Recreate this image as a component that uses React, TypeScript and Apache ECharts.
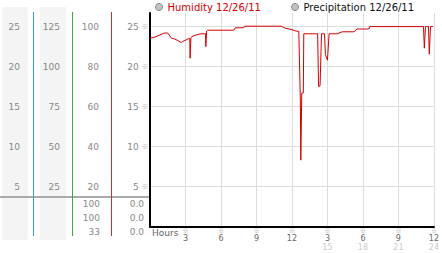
import React, { useEffect, useRef } from 'react';
import * as echarts from 'echarts';

// Time of day in hours (0 = midnight, 24 = next midnight)
const hours = [
  0.0, 0.42, 0.83, 1.25, 1.5, 1.81, 2.08, 2.36, 2.64, 2.78, 3.06, 3.28, 3.36, 3.39, 3.46, 3.53,
  3.89, 4.31, 4.69, 4.72, 4.79, 4.86, 7.08, 7.22, 7.92, 8.0, 11.1, 11.42, 11.92, 12.33, 12.58,
  12.71, 12.75, 12.83, 12.96, 13.0, 14.17, 14.25, 14.375, 14.5, 14.75, 14.83, 15.0, 15.14, 15.83,
  16.25, 17.25, 17.5, 18.5, 18.58, 23.12, 23.19, 23.29, 23.54, 23.61, 23.71, 23.92,
];
const humidity = [
  23.55, 23.7, 23.95, 24.2, 24.2, 23.55, 23.45, 23.25, 23.0, 23.15, 23.35, 23.5, 23.5, 21.05, 23.6, 23.75,
  23.95, 24.1, 24.1, 22.5, 24.45, 24.55, 24.55, 24.85, 24.85, 25.05, 25.05, 24.8, 24.65, 24.45, 24.4,
  15.8, 8.3, 16.7, 16.7, 24.1, 24.1, 17.5, 17.6, 24.1, 24.1, 21.5, 20.8, 24.1, 24.1,
  24.35, 24.35, 24.7, 24.7, 25.0, 25.0, 22.3, 25.0, 25.0, 21.55, 25.0, 25.0,
];
const precipitation: number[][] = [];

const seriesNames = ['Humidity 12/26/11', 'Precipitation 12/26/11'];
const Y_MAX = 26.7;
const Y_STEP = 5;
const X_MAX = 24;
const X_STEP = 3;
// left extra scales (factor relative to main axis)
const leftFactors = [4, 5, 1];
const summaryLeft = ['100', '100', '33'];
const summaryRight = ['0.0', '0.0', '0.0'];

const FONT = 'DejaVu Sans';
const MARK_FONT = 'Noto Sans CJK JP';

export default function App() {
  const ref = useRef<HTMLDivElement>(null);
  useEffect(() => {
    const chart = echarts.init(ref.current!, null, { renderer: 'svg' });
    const tickFilter = (v: number) => v > 0 && Math.abs(v % Y_STEP) < 1e-6;
    const offsets = [39, 78, 117];
    const margins = [12, 12, 13];
    const extraAxes = leftFactors.map((f, i) => ({
      type: 'value',
      min: 0,
      max: Y_MAX,
      interval: Y_STEP,
      position: 'left',
      offset: offsets[i],
      axisLine: { show: false },
      axisTick: { show: false },
      splitLine: { show: false },
      axisLabel: {
        margin: margins[i],
        showMaxLabel: false,
        color: '#888',
        fontSize: 9,
        fontFamily: FONT,
        formatter: (v: number) => (tickFilter(v) ? String(Math.round(v * f)) : ''),
      },
    }));

    const graphics: any[] = [
      { type: 'rect', z: -1, shape: { x: 2, y: 7, width: 26, height: 233 }, style: { fill: '#f4f4f4' } },
      { type: 'rect', z: -1, shape: { x: 40, y: 7, width: 26, height: 233 }, style: { fill: '#f4f4f4' } },
      { type: 'rect', z: 1, shape: { x: 0, y: 196, width: 149, height: 2 }, style: { fill: '#aaa' } },
      { type: 'line', z: 2, shape: { x1: 33.5, y1: 12, x2: 33.5, y2: 236 }, style: { stroke: '#3a9fc8', lineWidth: 1 } },
      { type: 'line', z: 2, shape: { x1: 72.5, y1: 12, x2: 72.5, y2: 236 }, style: { stroke: '#3aaa3a', lineWidth: 1 } },
      { type: 'line', z: 2, shape: { x1: 111.5, y1: 12, x2: 111.5, y2: 236 }, style: { stroke: '#c83232', lineWidth: 1 } },
      {
        type: 'text', left: 152, top: 228,
        style: { text: 'Hours', fill: '#666', fontSize: 9, fontFamily: FONT },
      },
    ];
    summaryLeft.forEach((t, i) => {
      graphics.push({
        type: 'text', x: 100, y: 204 + i * 14,
        style: { text: t, fill: '#888', fontSize: 9, fontFamily: FONT, align: 'right', verticalAlign: 'middle' },
      });
    });
    summaryRight.forEach((t, i) => {
      graphics.push({
        type: 'text', x: 144, y: 204 + i * 14,
        style: { text: t, fill: '#888', fontSize: 9, fontFamily: FONT, align: 'right', verticalAlign: 'middle' },
      });
    });

    const legendBase = {
      top: 2,
      padding: 0,
      itemWidth: 7,
      itemHeight: 7,
      selectedMode: false,
      textStyle: { fontSize: 10, fontFamily: FONT },
    };

    chart.setOption({
      animation: false,
      backgroundColor: '#fff',
      grid: { left: 150, right: 4, top: 13, bottom: 26.5 },
      legend: [
        {
          ...legendBase,
          left: 155,
          data: [{ name: seriesNames[0], icon: 'circle', itemStyle: { color: '#c4c4c4', borderColor: '#888', borderWidth: 1 }, textStyle: { color: '#cc0000' } }],
        },
        {
          ...legendBase,
          left: 291,
          data: [{ name: seriesNames[1], icon: 'circle', itemStyle: { color: '#c4c4c4', borderColor: '#888', borderWidth: 1 }, textStyle: { color: '#111' } }],
        },
      ],
      xAxis: {
        type: 'value',
        min: 0,
        max: X_MAX,
        interval: X_STEP,
        axisLine: { show: true, lineStyle: { color: '#000', width: 2 } },
        axisTick: { show: false },
        splitLine: { show: true, lineStyle: { color: '#ddd', width: 1 } },
        axisLabel: {
          margin: 0,
          formatter: (v: number) => {
            if (v === 0) return '';
            const primary = v > 12 ? v - 12 : v;
            const secondary = v > 12 ? String(v) : ' ';
            return `{m|※}\n{a|${primary}}\n{b|${secondary}}`;
          },
          rich: {
            m: { fontSize: 6, lineHeight: 7, color: '#aaa', fontFamily: MARK_FONT },
            a: { fontSize: 8, lineHeight: 9, color: '#666', fontFamily: FONT },
            b: { fontSize: 8, lineHeight: 9, color: '#ccc', fontFamily: FONT },
          },
        },
      },
      yAxis: [
        {
          type: 'value',
          min: 0,
          max: Y_MAX,
          interval: Y_STEP,
          position: 'left',
          axisLine: { show: true, lineStyle: { color: '#000', width: 2 } },
          axisTick: { show: false },
          splitLine: { show: true, showMaxLine: false, lineStyle: { color: '#ddd', width: 1 } },
          axisLabel: {
            margin: 2,
            showMaxLabel: false,
            formatter: (v: number) => (tickFilter(v) ? `{v|${v}} {m|※}` : ''),
            rich: {
              v: { fontSize: 9, color: '#888', fontFamily: FONT },
              m: { fontSize: 6, color: '#aaa', fontFamily: MARK_FONT },
            },
          },
        },
        ...extraAxes,
      ],
      graphic: { elements: graphics },
      series: [
        {
          name: seriesNames[0],
          type: 'line',
          yAxisIndex: 0,
          showSymbol: false,
          data: hours.map((h, i) => [h, humidity[i]]),
          lineStyle: { color: '#d40000', width: 1 },
          itemStyle: { color: '#d40000' },
        },
        {
          name: seriesNames[1],
          type: 'line',
          yAxisIndex: 0,
          showSymbol: false,
          data: precipitation,
          lineStyle: { color: '#888', width: 1 },
          itemStyle: { color: '#888' },
        },
      ],
    });
    return () => chart.dispose();
  }, []);
  return (
    <div
      ref={ref}
      style={{ position: 'fixed', left: 0, top: 0, width: 442, height: 253, background: '#fff' }}
    />
  );
}
